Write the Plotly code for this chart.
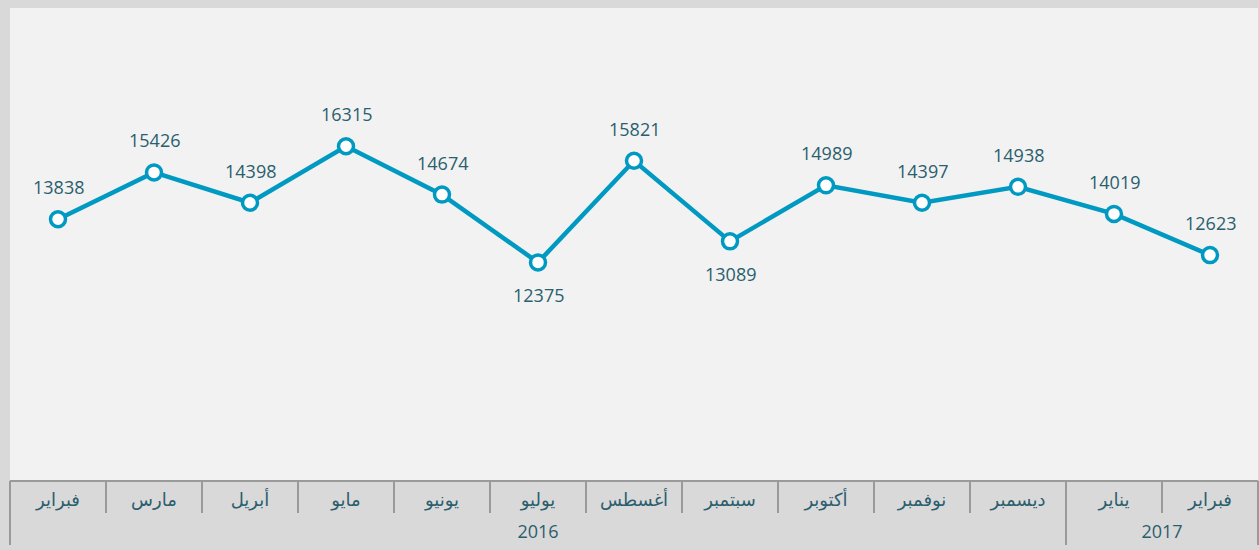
import plotly.graph_objects as go

years = ["2016"] * 11 + ["2017"] * 2
months = ["فبراير", "مارس", "أبريل", "مايو", "يونيو", "يوليو", "أغسطس",
          "سبتمبر", "أكتوبر", "نوفمبر", "ديسمبر", "يناير", "فبراير"]
values = [13838, 15426, 14398, 16315, 14674, 12375, 15821,
          13089, 14989, 14397, 14938, 14019, 12623]
label_below = [False, False, False, False, False, True, False,
               True, False, False, False, False, False]

LINE = "#0099c2"
TXT = "#2b5e6e"
GRID = "#9a9a9a"
FONT = "Open Sans, Noto Sans, DejaVu Sans, sans-serif"

idx = list(range(len(months)))
month_bounds = [i - 0.5 for i in idx] + [idx[-1] + 0.5]

# year groups: centres and boundaries derived from the years list
year_names, year_centers, year_bounds = [], [], [-0.5]
start = 0
for i in range(1, len(years) + 1):
    if i == len(years) or years[i] != years[start]:
        year_names.append(years[start])
        year_centers.append((start + i - 1) / 2)
        year_bounds.append(i - 0.5)
        start = i

fig = go.Figure()
fig.add_trace(go.Scatter(
    x=idx, y=values, mode="lines+markers",
    line=dict(color=LINE, width=4.5),
    marker=dict(size=15, color="white", line=dict(color=LINE, width=3.5)),
    hoverinfo="skip", showlegend=False, cliponaxis=False,
))
# empty trace so that the year axis (x2) is drawn
fig.add_trace(go.Scatter(
    x=year_centers, y=[None] * len(year_centers), xaxis="x2",
    mode="lines", hoverinfo="skip", showlegend=False,
))

for i, v, below in zip(idx, values, label_below):
    fig.add_annotation(
        x=i, y=v, text=str(v), showarrow=False,
        yshift=-33 if below else 32,
        font=dict(family=FONT, size=18, color=TXT),
    )

xrange = [-0.5, len(months) - 0.5]
fig.update_layout(
    width=1259, height=550,
    margin=dict(l=10, r=1, t=8, b=70),
    paper_bgcolor="#d9d9d9", plot_bgcolor="#f2f2f2",
    xaxis=dict(
        range=xrange, showgrid=False, zeroline=False,
        showline=True, linecolor=GRID, linewidth=2,
        tickmode="array", tickvals=idx, ticktext=months, ticks="",
        ticklabelstandoff=2,
        tickfont=dict(family=FONT, size=18, color=TXT),
        minor=dict(tickmode="array", tickvals=month_bounds, ticks="outside",
                   ticklen=31, tickwidth=2, tickcolor=GRID, showgrid=False),
    ),
    xaxis2=dict(
        overlaying="x", side="bottom", anchor="y", range=xrange,
        showgrid=False, zeroline=False, showline=False,
        tickmode="array", tickvals=year_centers, ticktext=year_names, ticks="",
        ticklabelstandoff=39,
        tickfont=dict(family=FONT, size=18, color=TXT),
        minor=dict(tickmode="array", tickvals=year_bounds, ticks="outside",
                   ticklen=64, tickwidth=2, tickcolor=GRID, showgrid=False),
    ),
    yaxis=dict(range=[5000, 21000], visible=False, showgrid=False, zeroline=False),
)

fig.write_html("out.html", config={"displayModeBar": False},
               post_script="document.body.style.margin='0';document.body.style.overflow='hidden';")
